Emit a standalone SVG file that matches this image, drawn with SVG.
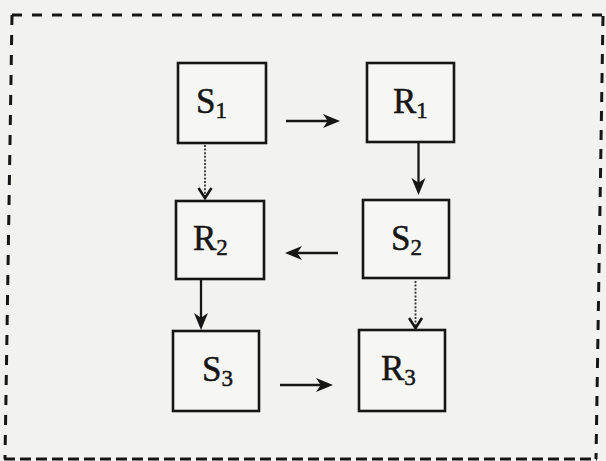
<svg xmlns="http://www.w3.org/2000/svg" width="606" height="461" viewBox="0 0 606 461">
<style>
.box{fill:#f6f6f4;stroke:#161616;stroke-width:2.6}
.solid{stroke:#161616;stroke-width:2.3;fill:none;marker-end:url(#head)}
.dot{stroke:#333;stroke-width:1.8;fill:none;stroke-dasharray:2 1.6;marker-end:url(#vee)}
.frame{stroke:#161616;stroke-width:3;fill:none;stroke-dasharray:10 10}
</style>
<defs>
<marker id="head" viewBox="0 0 17 15" refX="13" refY="7.5" markerWidth="17" markerHeight="15" markerUnits="userSpaceOnUse" orient="auto">
<path d="M17,7.5 L0,0.5 L4.8,7.5 L0,14.5 Z" fill="#161616"/>
</marker>
<marker id="vee" viewBox="0 0 14 16" refX="11" refY="8" markerWidth="14" markerHeight="16" markerUnits="userSpaceOnUse" orient="auto">
<path d="M1,1.5 L11,8 L1,14.5" fill="none" stroke="#161616" stroke-width="2.6"/>
</marker>
</defs>
<rect x="0" y="0" width="606" height="461" fill="#f2f2f0"/>
<g id="frame">
<path class="frame" d="M12,15 L606,15"/>
<path class="frame" d="M12,15 L5,459"/>
<path class="frame" d="M4,459 L597,459" style="stroke-dasharray:11 5"/>
<path class="frame" d="M603,16 L596,459" style="stroke-dasharray:10 9"/>
</g>
<g id="connectors">
<path class="solid" d="M286,121 L336,121"/>
<path class="solid" d="M418.5,143 L418.5,191"/>
<path class="solid" d="M338,253 L289,253"/>
<path class="solid" d="M201,279 L201,326"/>
<path class="solid" d="M280,385 L329,385"/>
<path class="dot" d="M205,145 L205,198"/>
<path class="dot" d="M415.5,281 L415.5,328"/>
</g>
<g font-family="Liberation Serif, Times New Roman, serif" font-size="35" fill="#161616" stroke="#161616" stroke-width="0.5">
<g id="S1"><rect class="box" x="178" y="63" width="88" height="80"/><text x="196" y="113">S<tspan font-size="23" dy="5">1</tspan></text></g>
<g id="R1"><rect class="box" x="367" y="63" width="87" height="79"/><text x="393" y="113">R<tspan font-size="23" dy="5">1</tspan></text></g>
<g id="R2"><rect class="box" x="176" y="201" width="88" height="78"/><text x="193" y="250">R<tspan font-size="23" dy="5">2</tspan></text></g>
<g id="S2"><rect class="box" x="363" y="200" width="86" height="78"/><text x="391" y="250">S<tspan font-size="23" dy="5">2</tspan></text></g>
<g id="S3"><rect class="box" x="173" y="331" width="86" height="80"/><text x="202" y="381">S<tspan font-size="23" dy="5">3</tspan></text></g>
<g id="R3"><rect class="box" x="359" y="330" width="86" height="81"/><text x="381" y="380">R<tspan font-size="23" dy="5">3</tspan></text></g>
</g>
</svg>
